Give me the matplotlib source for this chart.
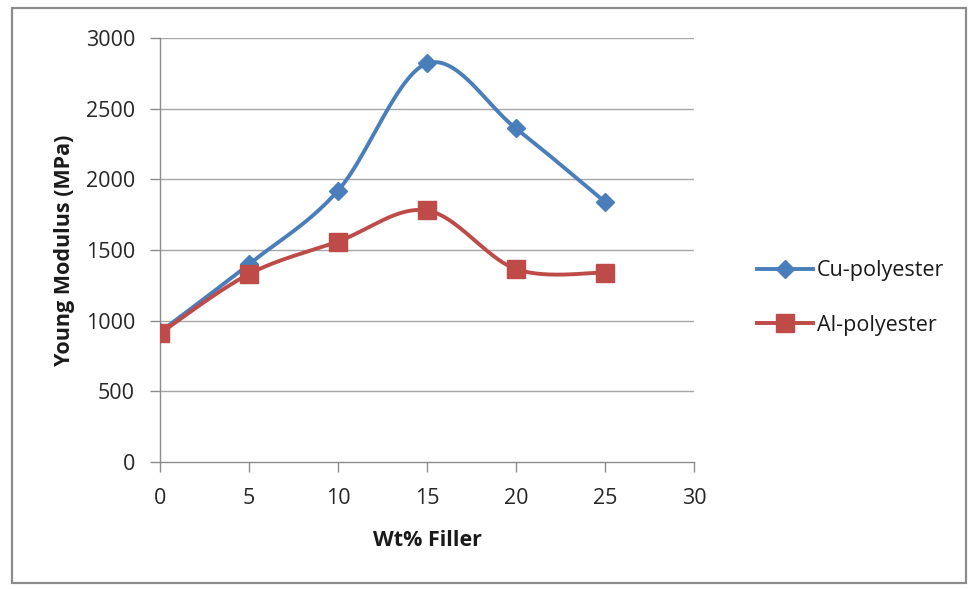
import numpy as np
import matplotlib
matplotlib.use("Agg")
import matplotlib.pyplot as plt
from matplotlib.patches import Rectangle
from matplotlib.lines import Line2D

wt_filler = [0, 5, 10, 15, 20, 25]
cu_polyester = [920, 1400, 1920, 2820, 2360, 1840]
al_polyester = [910, 1330, 1560, 1780, 1365, 1340]
x_ticks = [0, 5, 10, 15, 20, 25, 30]
y_ticks = [0, 500, 1000, 1500, 2000, 2500, 3000]


def smooth(xs, ys, n=40):
    xs = np.asarray(xs, float)
    ys = np.asarray(ys, float)
    P = np.column_stack([xs, ys])
    out = []
    for i in range(len(P) - 1):
        p0 = P[i - 1] if i > 0 else P[i]
        p1 = P[i]
        p2 = P[i + 1]
        p3 = P[i + 2] if i + 2 < len(P) else P[i + 1]
        c1 = p1 + (p2 - p0) / 6.0
        c2 = p2 - (p3 - p1) / 6.0
        t = np.linspace(0, 1, n)[:, None]
        seg = ((1 - t) ** 3) * p1 + 3 * ((1 - t) ** 2) * t * c1 + 3 * (1 - t) * t ** 2 * c2 + t ** 3 * p2
        out.append(seg if i == 0 else seg[1:])
    s = np.vstack(out)
    return s[:, 0], s[:, 1]


plt.rcParams['font.family'] = ['Open Sans', 'DejaVu Sans']

fig = plt.figure(figsize=(9.73, 5.89), dpi=100)
ax = fig.add_axes([160 / 973, 1 - 462 / 589, (694 - 160) / 973, (462 - 38) / 589])

blue = '#4A7EBB'
red = '#BE4B48'
grid_c = '#A6A6A6'

for yv in y_ticks[1:]:
    ax.axhline(yv, color=grid_c, lw=1.0, zorder=1)

sx, sy = smooth(wt_filler, cu_polyester)
ax.plot(sx, sy, color=blue, lw=2.8, zorder=3, solid_capstyle='round')
ax.plot(wt_filler, cu_polyester, ls='none', marker='D', ms=9.5, color=blue, zorder=4)
sx, sy = smooth(wt_filler, al_polyester)
ax.plot(sx, sy, color=red, lw=2.8, zorder=3, solid_capstyle='round')
ax.plot(wt_filler, al_polyester, ls='none', marker='s', ms=12.5, color=red, zorder=4)

ax.set_xlim(0, 30)
ax.set_ylim(0, 3000)
ax.set_xticks(x_ticks)
ax.set_yticks(y_ticks)
ax.tick_params(axis='both', direction='out', length=7, width=1, color='#8C8C8C',
               labelsize=15.5, labelcolor='#262626')
ax.tick_params(axis='x', pad=12)
ax.tick_params(axis='y', pad=11)
for s in ['top', 'right']:
    ax.spines[s].set_visible(False)
for s in ['left', 'bottom']:
    ax.spines[s].set_color('#8C8C8C')
    ax.spines[s].set_linewidth(1)

ax.set_xlabel('Wt% Filler', fontsize=15.5, fontweight='bold', labelpad=15, color='#1a1a1a')
ax.set_ylabel('Young Modulus (MPa)', fontsize=15.5, fontweight='bold', labelpad=8, color='#1a1a1a')

handles = [Line2D([], [], color=blue, lw=2.8, marker='D', ms=9.5),
           Line2D([], [], color=red, lw=2.8, marker='s', ms=12.5)]
fig.legend(handles, ['Cu-polyester', 'Al-polyester'], loc='center left',
           bbox_to_anchor=(738 / 973, 1 - 298 / 589), frameon=False, fontsize=15.5,
           handlelength=2.6, handletextpad=0.15, labelspacing=1.55, labelcolor='#1a1a1a')

fig.patches.append(Rectangle((12 / 973, 1 - 583 / 589), (966 - 12) / 973, (583 - 8) / 589,
                             transform=fig.transFigure, fill=False, edgecolor='#8C8C8C', lw=1.6))

fig.savefig('out.png', dpi=100, facecolor='white')
